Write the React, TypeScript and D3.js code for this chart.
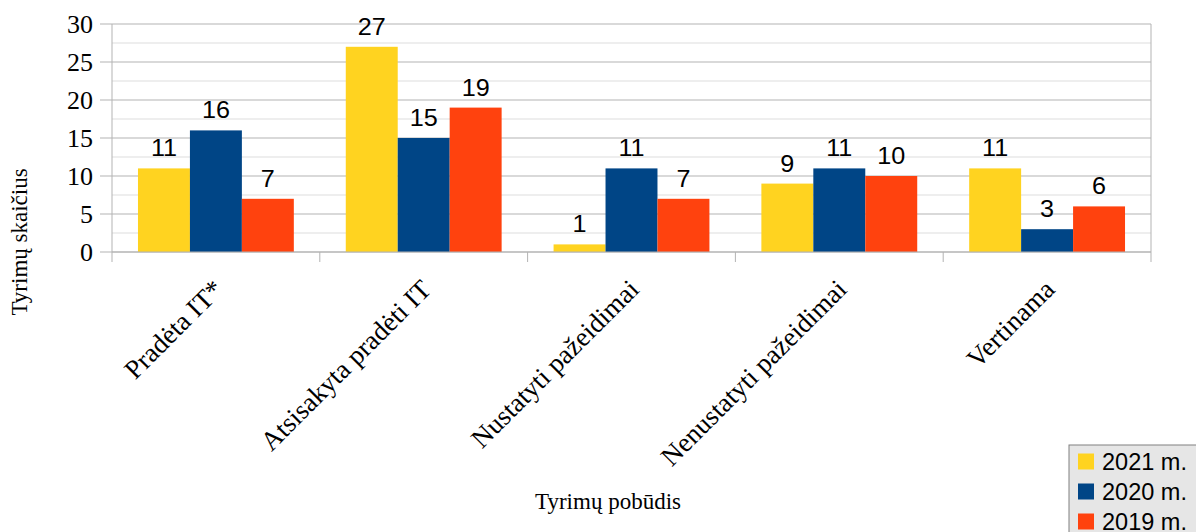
import * as d3 from 'd3';

const categories = [
  'Pradėta IT*',
  'Atsisakyta pradėti IT',
  'Nustatyti pažeidimai',
  'Nenustatyti pažeidimai',
  'Vertinama',
];
const seriesNames = ['2021 m.', '2020 m.', '2019 m.'];
const values2021 = [11, 27, 1, 9, 11];
const values2020 = [16, 15, 11, 11, 3];
const values2019 = [7, 19, 7, 10, 6];
const seriesColors = ['#ffd320', '#004586', '#ff420e'];
const yTicks = [0, 5, 10, 15, 20, 25, 30];

const W = 1196;
const H = 532;
const margin = { left: 112, right: 45, top: 24, bottom: 280 };

const serif = '"Liberation Serif", "Times New Roman", serif';
const sans = '"Liberation Sans", Arial, sans-serif';

export default function App() {
  const series = [values2021, values2020, values2019];
  const x0 = d3
    .scaleBand<string>()
    .domain(categories)
    .range([margin.left, W - margin.right])
    .paddingInner(0.25)
    .paddingOuter(0.125);
  const band = d3
    .scaleBand<string>()
    .domain(categories)
    .range([margin.left, W - margin.right]);
  const x1 = d3
    .scaleBand<number>()
    .domain(d3.range(series.length))
    .range([0, x0.bandwidth()]);
  const y = d3.scaleLinear().domain([0, 30]).range([252, margin.top]);

  const minorTicks = d3.range(2.5, 30, 5);
  const boundaries = [...categories.map((c) => band(c)!), W - margin.right];
  const x0px = margin.left;
  const x1px = W - margin.right;
  const yBase = y(0);

  return (
    <div style={{ position: 'absolute', left: 0, top: 0 }}>
      <svg width={W} height={H} style={{ display: 'block', background: '#fff' }}>
        {/* minor grid */}
        {minorTicks.map((t) => (
          <line key={'m' + t} x1={x0px} x2={x1px} y1={y(t)} y2={y(t)} stroke="#dddddd" strokeWidth={1} />
        ))}
        {/* major grid + ticks */}
        {yTicks.map((t) => (
          <g key={'g' + t}>
            <line x1={x0px - 12} x2={x1px} y1={y(t)} y2={y(t)} stroke="#b3b3b3" strokeWidth={1} />
            <text
              x={93}
              y={y(t)}
              dy="0.35em"
              textAnchor="end"
              fontFamily={serif}
              fontSize={26}
              fill="#000"
            >
              {t}
            </text>
          </g>
        ))}
        <line x1={x0px} x2={x0px} y1={margin.top} y2={yBase} stroke="#b3b3b3" />
        <line x1={x1px} x2={x1px} y1={margin.top} y2={yBase} stroke="#b3b3b3" />

        {/* bars */}
        {categories.map((c, ci) => (
          <g key={c} transform={`translate(${x0(c)},0)`}>
            {series.map((s, si) => (
              <g key={si}>
                <rect
                  x={x1(si)}
                  y={y(s[ci])}
                  width={x1.bandwidth()}
                  height={yBase - y(s[ci])}
                  fill={seriesColors[si]}
                />
                <text
                  transform={`translate(${x1(si)! + x1.bandwidth() / 2},${y(s[ci]) - 12}) scale(1.05,1)`}
                  textAnchor="middle"
                  fontFamily={sans}
                  fontSize={24}
                  fill="#000"
                >
                  {s[ci]}
                </text>
              </g>
            ))}
          </g>
        ))}

        {/* x axis */}
        <line x1={x0px} x2={x1px} y1={yBase} y2={yBase} stroke="#b3b3b3" />
        {boundaries.map((b, i) => (
          <line key={'t' + i} x1={b} x2={b} y1={yBase} y2={yBase + 10} stroke="#b3b3b3" />
        ))}
        {categories.map((c) => {
          const cx = band(c)! + band.bandwidth() / 2 + 9;
          const cy = 291;
          return (
            <text
              key={'l' + c}
              transform={`translate(${cx},${cy}) rotate(-45)`}
              textAnchor="end"
              fontFamily={serif}
              fontSize={27}
              fill="#000"
            >
              {c}
            </text>
          );
        })}

        {/* axis titles */}
        <text
          transform={`translate(27,${(margin.top + yBase) / 2 + 104}) rotate(-90)`}
          textAnchor="middle"
          fontFamily={serif}
          fontSize={23}
          fill="#000"
        >
          Tyrimų skaičius
        </text>
        <text x={608} y={509} textAnchor="middle" fontFamily={serif} fontSize={23} fill="#000">
          Tyrimų pobūdis
        </text>

        {/* legend */}
        <g>
          <rect x={1069} y={445} width={140} height={100} fill="#e6e6e6" stroke="#808080" />
          {seriesNames.map((n, i) => (
            <g key={n} transform={`translate(1078,${453.5 + i * 30})`}>
              <rect width={16} height={16} fill={seriesColors[i]} />
              <text x={24} y={16} fontFamily={sans} fontSize={23.5} fill="#000">
                {n}
              </text>
            </g>
          ))}
        </g>
      </svg>
    </div>
  );
}
